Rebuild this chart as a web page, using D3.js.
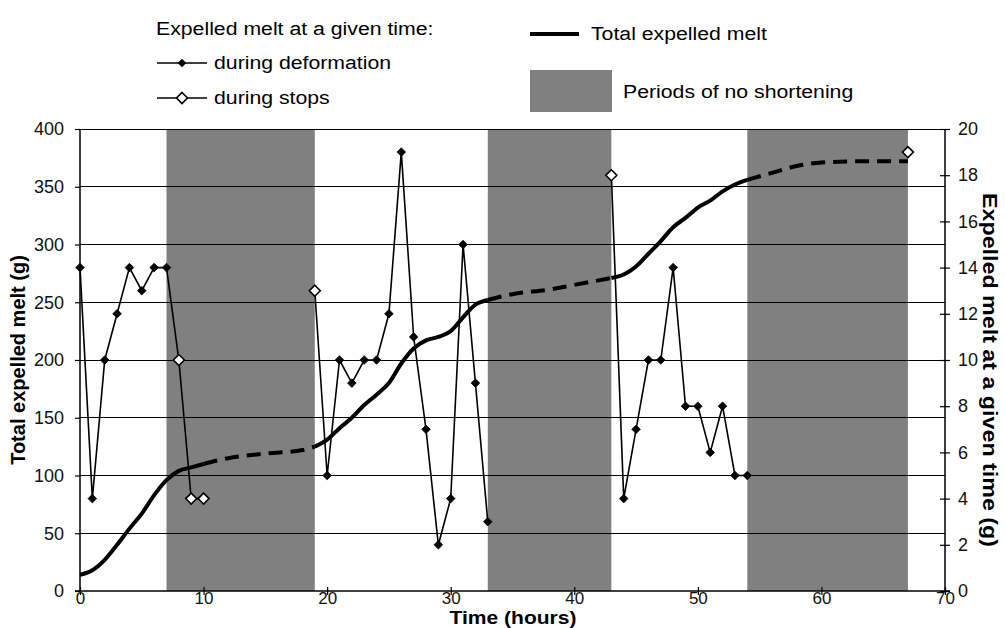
<!DOCTYPE html>
<html>
<head>
<meta charset="utf-8">
<script src="https://cdn.jsdelivr.net/npm/d3@7/dist/d3.min.js"></script>
<style>
  html, body { margin: 0; padding: 0; background: #fff; }
  svg { display: block; font-family: "Liberation Sans", Arial, sans-serif; }
</style>
</head>
<body>
<svg id="chart" width="1005" height="628"></svg>
<script>
// ---- Data ----
// Periods of no shortening (hours)
const stopStart = [7, 33, 54];
const stopEnd   = [19, 43, 67];

// Expelled melt at a given time (g, right axis)
const meltTime  = [0,1,2,3,4,5,6,7,8,9,10, 19,20,21,22,23,24,25,26,27,28,29,30,31,32,33, 43,44,45,46,47,48,49,50,51,52,53,54, 67];
const meltValue = [14,4,10,12,14,13,14,14,10,4,4, 13,5,10,9,10,10,12,19,11,7,2,4,15,9,3, 18,4,7,10,10,14,8,8,6,8,5,5, 19];
const meltPhase = ["d","d","d","d","d","d","d","d","s","s","s", "s","d","d","d","d","d","d","d","d","d","d","d","d","d","d", "s","d","d","d","d","d","d","d","d","d","d","d", "s"];
const meltRun   = [1,1,1,1,1,1,1,1,1,1,1, 2,2,2,2,2,2,2,2,2,2,2,2,2,2,2, 3,3,3,3,3,3,3,3,3,3,3,3, 4];

// Total expelled melt (g, left axis)
const totalTime  = [0,1,2,3,4,5,6,7,8,9,10, 12,15,18, 19,20,21,22,23,24,25,26,27,28,29,30,31,32,33, 35,38,40, 43,44,45,46,47,48,49,50,51,52,53,54, 56,58,60,63,67];
const totalValue = [14,18,27,40,54,67,83,96,104,107,110, 115,119,122, 125,131,141,150,161,170,180,197,210,217,220,225,237,248,252, 257,261,265, 271,274,281,292,303,315,323,332,338,346,352,356, 362,368,371,372,372];
// Line style segments for the total curve
const totalSegStart = [0, 10, 19, 33, 43, 54];
const totalSegEnd   = [10, 19, 33, 43, 54, 67];
const totalSegDash  = [false, true, false, true, false, true];

const xTicks = [0,10,20,30,40,50,60,70];
const yLeftTicks = [0,50,100,150,200,250,300,350,400];
const yRightTicks = [0,2,4,6,8,10,12,14,16,18,20];

// ---- Layout ----
const svg = d3.select("#chart");
const L = 80, R = 945, T = 129, B = 591;
const x = d3.scaleLinear().domain([0,70]).range([L,R]);
const yL = d3.scaleLinear().domain([0,400]).range([B,T]);
const yR = d3.scaleLinear().domain([0,20]).range([B,T]);
const FS = 18;
const STRETCH = 1.18;
function stretch(sel, f) {
  sel.each(function() {
    const len = this.getComputedTextLength();
    d3.select(this).attr("textLength", len * f).attr("lengthAdjust", "spacingAndGlyphs");
  });
}

// Bands
svg.append("g").selectAll("rect").data(stopStart).join("rect")
  .attr("x", (d) => x(d))
  .attr("width", (d,i) => x(stopEnd[i]) - x(d))
  .attr("y", T).attr("height", B - T)
  .attr("fill", "#808080");

// Gridlines
svg.append("g").selectAll("line").data(yLeftTicks.filter(d => d > 0)).join("line")
  .attr("x1", L).attr("x2", R)
  .attr("y1", d => yL(d)).attr("y2", d => yL(d))
  .attr("stroke", "#000").attr("stroke-width", 1)
  .attr("shape-rendering", "crispEdges");

// Axes
const axL = d3.axisLeft(yL).tickValues(yLeftTicks).tickSize(5).tickPadding(11);
const gL = svg.append("g").attr("transform", `translate(${L},0)`).call(axL);
const axR = d3.axisRight(yR).tickValues(yRightTicks).tickSize(5).tickPadding(8);
const gR = svg.append("g").attr("transform", `translate(${R},0)`).call(axR);
const axB = d3.axisBottom(x).tickValues(xTicks).tickSize(4).tickPadding(2);
const gB = svg.append("g").attr("transform", `translate(0,${B})`).call(axB);
[gL, gR, gB].forEach(g => {
  g.select(".domain").attr("stroke", "#000").attr("stroke-width", 1.5);
  g.selectAll(".tick line").attr("stroke", "#000").attr("stroke-width", 1.2);
  g.selectAll(".tick text").attr("font-size", FS).attr("fill", "#111")
    .attr("font-family", "'Liberation Sans', Arial, sans-serif");
});
gR.selectAll(".tick line").attr("x1", -5);
gB.selectAll(".tick line").attr("y1", -4);
gB.selectAll(".tick text").attr("y", 1).attr("font-size", 17);
gL.select(".domain").attr("d", `M-5,${B}H0V${T}`);
gR.select(".domain").attr("d", `M5,${B}H0V${T}`);
gB.select(".domain").attr("d", `M${L},0H${R}`);

// Total expelled melt
const totalPts = totalTime.map((t,i) => ({t, v: totalValue[i]}));
const lineTotal = d3.line().x(d => x(d.t)).y(d => yL(d.v)).curve(d3.curveMonotoneX);
totalSegStart.forEach((s,i) => {
  const pts = totalPts.filter(p => p.t >= s && p.t <= totalSegEnd[i]);
  svg.append("path").datum(pts)
    .attr("d", lineTotal)
    .attr("fill", "none").attr("stroke", "#000").attr("stroke-width", 4)
    .attr("stroke-dasharray", totalSegDash[i] ? "14,8" : null);
});

// Expelled melt at given time
const meltPts = meltTime.map((t,i) => ({t, v: meltValue[i], p: meltPhase[i], r: meltRun[i]}));
const lineMelt = d3.line().x(d => x(d.t)).y(d => yR(d.v));
d3.groups(meltPts, d => d.r).forEach(([r, pts]) => {
  if (pts.length > 1) {
    svg.append("path").datum(pts).attr("d", lineMelt)
      .attr("fill", "none").attr("stroke", "#000").attr("stroke-width", 1.6);
  }
});
const diamond = (s) => `M0,${-s}L${s},0L0,${s}L${-s},0Z`;
svg.append("g").selectAll("path").data(meltPts).join("path")
  .attr("transform", d => `translate(${x(d.t)},${yR(d.v)})`)
  .attr("d", d => d.p === "d" ? diamond(4.3) : diamond(5.5))
  .attr("fill", d => d.p === "d" ? "#000" : "#fff")
  .attr("stroke", "#000").attr("stroke-width", d => d.p === "d" ? 0.8 : 1.6);

// Axis titles
svg.append("text").attr("transform", `translate(25,360) rotate(-90)`)
  .attr("text-anchor", "middle").attr("font-size", 20).attr("font-weight", "bold")
  .text("Total expelled melt (g)");
svg.append("text").attr("transform", `translate(983,370) rotate(90)`)
  .attr("text-anchor", "middle").attr("font-size", 21).attr("font-weight", "bold")
  .attr("textLength", 354).attr("lengthAdjust", "spacingAndGlyphs")
  .text("Expelled melt at a given time (g)");
svg.append("text").attr("x", 513).attr("y", 623.5)
  .attr("text-anchor", "middle").attr("font-size", 17.5).attr("font-weight", "bold")
  .attr("textLength", 127).attr("lengthAdjust", "spacingAndGlyphs")
  .text("Time (hours)");

// Legend
const lg = svg.append("g").attr("font-size", 18);
lg.append("text").attr("x", 156).attr("y", 35).text("Expelled melt at a given time:");
lg.append("line").attr("x1", 157).attr("x2", 207).attr("y1", 63).attr("y2", 63)
  .attr("stroke", "#000").attr("stroke-width", 1.6);
lg.append("path").attr("d", diamond(4.3)).attr("transform", "translate(182,63)").attr("fill", "#000");
lg.append("text").attr("x", 214).attr("y", 69).text("during deformation");
lg.append("line").attr("x1", 157).attr("x2", 207).attr("y1", 98).attr("y2", 98)
  .attr("stroke", "#000").attr("stroke-width", 1.6);
lg.append("path").attr("d", diamond(5.5)).attr("transform", "translate(182,98)")
  .attr("fill", "#fff").attr("stroke", "#000").attr("stroke-width", 1.6);
lg.append("text").attr("x", 214).attr("y", 104).text("during stops");
lg.append("line").attr("x1", 530).attr("x2", 579).attr("y1", 34).attr("y2", 34)
  .attr("stroke", "#000").attr("stroke-width", 4);
lg.append("text").attr("x", 591).attr("y", 40).text("Total expelled melt");
lg.append("rect").attr("x", 530).attr("y", 70).attr("width", 82).attr("height", 42).attr("fill", "#808080");
lg.append("text").attr("x", 623).attr("y", 98).text("Periods of no shortening");
lg.selectAll("text").call(stretch, STRETCH);
</script>
</body>
</html>
